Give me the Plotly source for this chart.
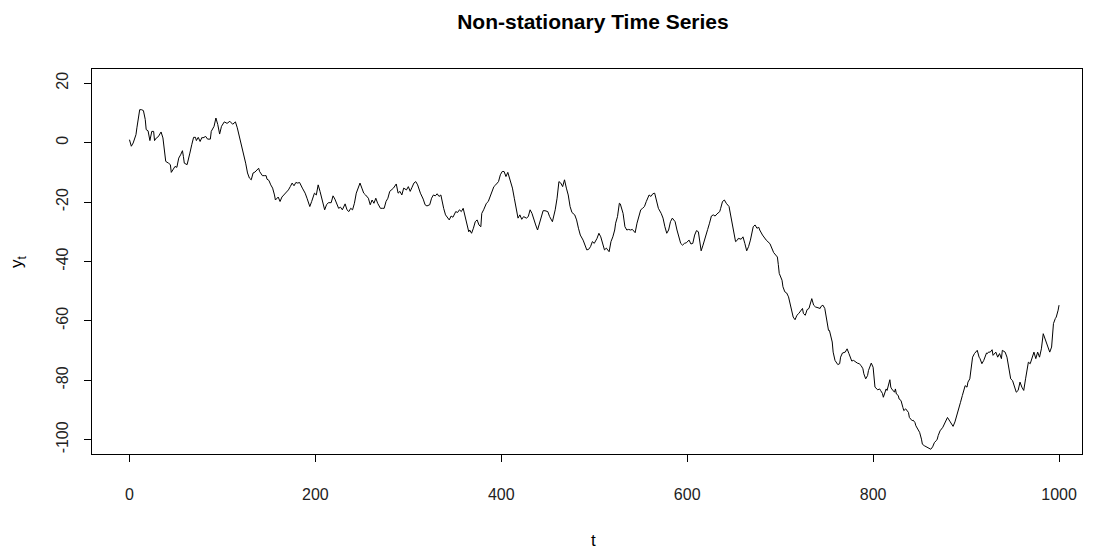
import plotly.graph_objects as go

# Random-walk path y_t, sampled at the time steps where it turns
t = [0, 2, 4, 7, 8, 10, 11, 13, 15, 17, 18, 20, 22, 24, 26, 27, 29, 31, 32, 34, 36, 37, 38, 39,
     42, 44, 45, 47, 49, 51, 53, 55, 57, 58, 59, 62, 63, 65, 67, 69, 71, 72, 74, 76, 78, 79, 82,
     84, 87, 88, 91, 93, 95, 97, 99, 102, 105, 108, 111, 114, 116, 119, 121, 123, 125, 127, 129,
     131, 133, 135, 138, 139, 140, 143, 145, 147, 148, 150, 152, 154, 156, 157, 160, 162, 164,
     166, 168, 171, 173, 175, 177, 179, 181, 183, 186, 189, 191, 194, 196, 199, 201, 203, 205,
     207, 210, 212, 214, 217, 219, 221, 223, 225, 227, 229, 232, 234, 236, 238, 240, 242, 244,
     246, 248, 250, 252, 254, 257, 259, 261, 263, 265, 267, 270, 272, 274, 276, 278, 280, 284,
     287, 289, 291, 293, 295, 298, 300, 302, 304, 306, 308, 310, 313, 315, 316, 318, 320, 323,
     325, 327, 329, 331, 333, 335, 336, 338, 340, 342, 344, 346, 348, 351, 353, 355, 357, 359,
     361, 363, 365, 366, 368, 370, 372, 374, 376, 378, 379, 381, 384, 386, 388, 390, 392, 394,
     397, 399, 401, 403, 405, 407, 409, 412, 414, 416, 418, 420, 422, 424, 427, 429, 431, 433,
     435, 437, 439, 441, 443, 445, 447, 450, 452, 454, 455, 458, 460, 462, 464, 466, 468, 470,
     472, 474, 476, 479, 481, 483, 485, 488, 490, 492, 494, 496, 498, 500, 503, 505, 507, 509,
     511, 513, 516, 518, 520, 522, 523, 525, 527, 528, 531, 533, 535, 537, 539, 541, 544, 546,
     548, 550, 552, 554, 556, 559, 561, 563, 565, 567, 569, 572, 574, 576, 578, 580, 582, 584,
     587, 589, 591, 593, 595, 597, 599, 602, 604, 606, 608, 610, 612, 613, 615, 617, 620, 622,
     624, 626, 628, 630, 632, 635, 636, 638, 640, 642, 645, 646, 648, 650, 652, 654, 655, 658,
     660, 662, 664, 666, 668, 671, 673, 675, 677, 678, 681, 685, 689, 693, 697, 698, 699, 702,
     703, 705, 707, 709, 711, 712, 714, 716, 718, 720, 721, 724, 725, 727, 729, 731, 734, 736,
     738, 740, 742, 743, 744, 746, 748, 750, 752, 753, 754, 756, 757, 759, 762, 764, 765, 767,
     770, 772, 774, 777, 779, 781, 783, 785, 787, 789, 790, 792, 794, 795, 797, 798, 800, 801,
     802, 805, 807, 808, 810, 811, 812, 814, 815, 818, 819, 820, 823, 824, 825, 827, 828, 830,
     832, 833, 835, 838, 839, 840, 842, 843, 845, 846, 848, 850, 852, 853, 855, 858, 860, 862,
     864, 866, 868, 869, 870, 872, 875, 878, 880, 883, 886, 888, 890, 892, 894, 896, 898, 899,
     901, 902, 904, 906, 907, 909, 912, 914, 915, 917, 919, 922, 923, 924, 926, 928, 929, 932,
     934, 936, 938, 939, 942, 944, 946, 948, 950, 952, 954, 956, 958, 960, 962, 964, 966, 967,
     969, 971, 973, 975, 977, 979, 981, 983, 985, 987, 989, 990, 992, 994, 996, 997, 999, 1000]

y = [1.0, -1.2, -0.1, 2.7, 5.0, 9.5, 11.1, 11.1, 10.8, 7.8, 4.4, 4.0, 0.7, 3.8, 3.8, 0.7, 1.6,
     2.0, 2.7, 3.6, 1.6, -0.7, -3.5, -6.3, -6.9, -7.4, -10.0, -9.1, -8.0, -8.3, -5.2, -4.1, -2.7,
     -4.6, -6.9, -7.4, -5.7, -3.5, -0.7, 1.8, 1.8, 0.7, 1.8, 0.4, 1.8, 1.6, 2.1, 1.2, 1.2, 3.8,
     5.5, 8.3, 6.1, 2.9, 5.5, 7.0, 6.5, 7.2, 6.2, 7.0, 5.0, 1.0, -0.7, -3.5, -6.9, -10.2, -11.9,
     -12.5, -10.2, -9.9, -8.9, -8.6, -9.7, -11.1, -11.1, -11.1, -12.3, -12.7, -14.2, -15.3,
     -17.6, -19.3, -18.3, -19.8, -18.3, -17.6, -16.8, -15.9, -14.8, -13.6, -14.5, -13.4, -13.6,
     -13.4, -15.3, -17.0, -18.7, -21.5, -19.8, -17.0, -17.6, -14.2, -16.4, -19.3, -22.6, -20.9,
     -20.2, -20.2, -17.9, -19.0, -20.9, -22.1, -21.7, -22.6, -20.6, -22.6, -23.2, -22.1, -22.6,
     -20.4, -17.0, -15.3, -13.6, -15.3, -17.0, -17.6, -18.7, -20.9, -19.3, -20.4, -18.7, -20.4,
     -22.1, -22.1, -22.1, -19.8, -18.7, -16.4, -15.3, -13.9, -17.0, -16.4, -17.6, -15.3, -15.9,
     -14.8, -16.4, -15.0, -13.6, -13.1, -14.2, -17.0, -18.1, -19.0, -20.9, -21.3, -20.9, -18.7,
     -17.6, -17.9, -17.2, -18.1, -17.6, -19.3, -22.1, -24.3, -25.4, -26.0, -24.7, -25.1, -23.2,
     -23.5, -22.6, -23.2, -22.1, -24.9, -28.3, -30.0, -29.4, -30.5, -28.8, -26.6, -26.0, -27.7,
     -28.3, -23.8, -22.6, -20.4, -19.8, -18.1, -15.9, -14.8, -14.2, -13.1, -10.8, -9.7, -9.7,
     -11.4, -10.0, -11.9, -15.3, -18.7, -22.1, -25.4, -24.3, -25.8, -24.9, -25.4, -24.9, -22.6,
     -23.8, -26.0, -27.7, -29.4, -27.1, -24.9, -22.9, -22.9, -23.2, -24.9, -25.8, -26.6, -22.6,
     -18.7, -13.1, -13.6, -14.8, -12.5, -15.3, -17.6, -21.5, -23.5, -24.3, -26.0, -28.8, -31.1,
     -32.8, -34.5, -36.1, -35.9, -35.0, -33.3, -33.9, -32.2, -30.5, -31.7, -33.9, -36.1, -35.5,
     -36.7, -33.3, -31.7, -29.4, -27.1, -24.9, -20.4, -20.6, -23.8, -28.3, -29.4, -29.2, -29.4,
     -29.2, -30.3, -27.1, -24.9, -22.6, -22.1, -21.5, -19.8, -17.6, -18.1, -17.2, -17.0, -19.3,
     -22.1, -23.8, -25.4, -28.3, -30.5, -29.4, -26.6, -25.4, -26.6, -29.4, -32.2, -33.9, -34.5,
     -33.9, -33.7, -32.8, -34.1, -33.9, -31.1, -29.6, -30.0, -32.8, -36.4, -34.5, -31.7, -29.2,
     -27.1, -24.7, -24.3, -24.7, -24.0, -23.2, -22.1, -19.8, -19.3, -20.4, -21.5, -23.2, -25.4,
     -29.4, -33.3, -32.8, -32.2, -32.5, -31.7, -33.9, -36.4, -35.0, -32.8, -28.3, -27.7, -28.8,
     -28.5, -29.4, -31.1, -32.8, -34.0, -37.0, -38.5, -41.0, -44.0, -46.3, -48.5, -50.2, -50.6,
     -51.9, -54.7, -57.0, -58.7, -59.6, -58.1, -57.5, -57.0, -55.8, -57.5, -58.1, -56.2, -55.8,
     -52.5, -54.7, -55.3, -55.5, -55.8, -55.8, -55.1, -54.7, -55.8, -59.2, -63.2, -63.2, -64.9,
     -67.1, -70.5, -73.3, -74.7, -74.4, -72.2, -70.8, -70.5, -69.4, -71.0, -73.5, -73.3, -73.9,
     -74.2, -74.4, -75.0, -76.1, -77.8, -79.5, -78.4, -76.7, -75.0, -74.2, -75.6, -79.0, -82.3,
     -83.2, -82.9, -83.4, -84.4, -85.7, -84.6, -82.9, -83.4, -79.8, -82.3, -82.9, -84.0, -82.9,
     -84.6, -85.1, -86.3, -86.8, -89.1, -90.2, -89.6, -90.8, -92.5, -93.0, -93.6, -93.4, -94.2,
     -95.3, -96.4, -97.5, -99.8, -101.5, -102.0, -102.4, -102.8, -103.2, -102.4, -100.9, -100.3,
     -99.8, -98.6, -97.0, -95.8, -93.6, -92.5, -94.0, -95.5, -94.0, -91.5, -89.6, -87.4, -85.1,
     -82.9, -81.8, -82.3, -80.6, -79.5, -75.6, -72.2, -71.0, -69.9, -72.2, -72.7, -74.4, -73.3,
     -70.8, -71.0, -70.5, -70.5, -69.7, -71.6, -70.5, -72.2, -71.0, -72.7, -69.9, -70.5, -72.2,
     -76.7, -79.5, -80.1, -81.8, -84.0, -83.4, -80.6, -82.3, -83.4, -79.5, -76.1, -73.9, -74.4,
     -72.2, -70.5, -72.7, -70.5, -72.2, -69.4, -64.3, -66.0, -68.2, -69.9, -70.5, -68.8, -60.9,
     -59.2, -58.7, -56.4, -54.7, -54.0, -54.7, -55.3]

x_ticks = [0, 200, 400, 600, 800, 1000]
y_ticks = [-100, -80, -60, -40, -20, 0, 20]

W, H = 1096, 552
L, R, T, B = 92, 14, 69, 98
FONT = "Arial, Liberation Sans"

fig = go.Figure(go.Scatter(x=t, y=y, mode="lines",
                           line=dict(color="black", width=1), hoverinfo="skip"))

axis_common = dict(showgrid=False, zeroline=False, showline=True, mirror=True,
                   linecolor="black", linewidth=1, ticks="outside", ticklen=7,
                   tickcolor="black", tickwidth=1,
                   tickfont=dict(family=FONT, size=16, color="#222"))

fig.update_layout(
    width=W, height=H,
    margin=dict(l=L, r=R, t=T, b=B),
    plot_bgcolor="white", paper_bgcolor="white",
    showlegend=False,
    title=dict(text="<b>Non-stationary Time Series</b>", xref="paper", x=0.506,
               xanchor="center", y=1 - 22 / H, yanchor="middle",
               font=dict(family=FONT, size=21, color="black")),
    xaxis=dict(range=[-40.3, 1024.7], tickvals=x_ticks, ticktext=[str(v) for v in x_ticks],
               ticklabelstandoff=19, **axis_common),
    yaxis=dict(range=[-104.8, 24.8], tickvals=y_ticks, ticktext=[str(v) for v in y_ticks],
               tickangle=-90, ticklabelstandoff=10, **axis_common),
)

# Axis titles placed in the outer margins
pw, ph = W - L - R, H - T - B
fig.add_annotation(text="t", xref="paper", yref="paper", x=(593 - L) / pw,
                   y=-(540 - (H - B)) / ph, showarrow=False, xanchor="center",
                   yanchor="middle", font=dict(family=FONT, size=17, color="black"))
fig.add_annotation(text="y<sub>t</sub>", xref="paper", yref="paper", x=-(L - 18) / pw,
                   y=(H - B - 262) / ph, showarrow=False, textangle=-90,
                   xanchor="center", yanchor="middle",
                   font=dict(family=FONT, size=17, color="black"))

fig.write_html("out.html")
